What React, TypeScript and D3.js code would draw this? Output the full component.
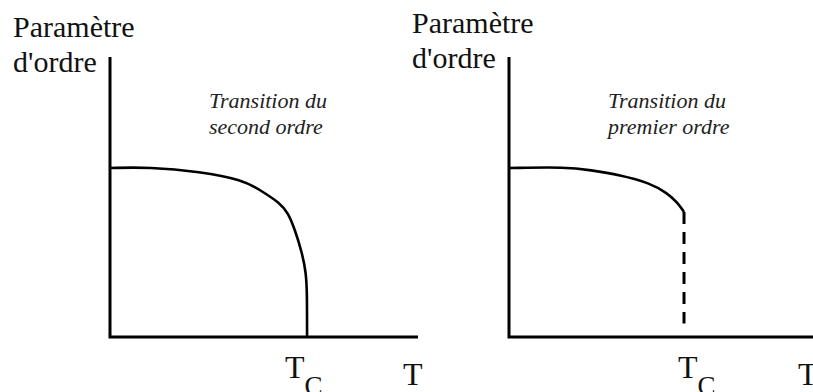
import React from "react";
import * as d3 from "d3";

// order parameter vs temperature (T in units of Tc, M in units of the low-T plateau)
const secondOrderT = [0, 0.2, 0.457, 0.675, 0.761, 0.863, 0.904, 0.939, 0.975, 0.995, 1.0, 1.0];
const secondOrderM = [1.0, 1.006, 0.978, 0.929, 0.87, 0.793, 0.734, 0.633, 0.497, 0.379, 0.26, 0];

const firstOrderT = [0, 0.331, 0.463, 0.634, 0.806, 0.903, 0.96, 1.0];
const firstOrderM = [1.0, 1.006, 0.988, 0.959, 0.911, 0.852, 0.799, 0.74];
// dashed jump at Tc, from the end of the curve down to just above the axis
const jumpM = [0.74, 0.08];

const yLabel = ["Paramètre", "d'ordre"];
const secondTitle = ["Transition du", "second ordre"];
const firstTitle = ["Transition du", "premier ordre"];
const tcLabel = ["T", "C"];
const tLabel = "T";

const W = 813;
const H = 392;
const serif = "Liberation Serif, DejaVu Serif, Times New Roman, serif";

type PanelProps = {
  left: number;
  width: number;
  tMax: number;
  ts: number[];
  ms: number[];
  title: string[];
  labelTop: number;
  tcShift: number;
  jump?: number[];
};

function Panel(props: PanelProps) {
  const yMax = 1.657;
  const x = d3.scaleLinear().domain([0, props.tMax]).range([props.left, props.left + props.width]);
  const y = d3.scaleLinear().domain([0, yMax]).range([337, 57]);

  const pts: [number, number][] = props.ts.map((t, i) => [t, props.ms[i]]);
  const line = d3
    .line<[number, number]>()
    .x((d) => x(d[0]))
    .y((d) => y(d[1]))
    .curve(d3.curveBasis);

  const axis = `M${x(0)},${y(yMax)}V${y(0)}H${x(props.tMax)}`;
  const labelX = props.left - 97;

  return (
    <g>
      <text x={labelX} y={props.labelTop} fontFamily={serif} fontSize={30} fill="#111">
        {yLabel[0]}
      </text>
      <text x={labelX} y={props.labelTop + 35} fontFamily={serif} fontSize={30} fill="#111">
        {yLabel[1]}
      </text>

      <text x={props.left + 99} y={108} fontFamily={serif} fontStyle="italic" fontSize={22} fill="#222">
        {props.title[0]}
      </text>
      <text x={props.left + 99} y={134} fontFamily={serif} fontStyle="italic" fontSize={22} fill="#222">
        {props.title[1]}
      </text>

      <path d={line(pts) || ""} fill="none" stroke="#000" strokeWidth={2.6} />
      {props.jump && (
        <line
          x1={x(1)}
          x2={x(1)}
          y1={y(props.jump[0])}
          y2={y(props.jump[1])}
          stroke="#000"
          strokeWidth={3}
          strokeDasharray="12 8"
        />
      )}
      <path d={axis} fill="none" stroke="#000" strokeWidth={3} strokeLinejoin="miter" />

      <text x={x(1) + props.tcShift} y={378} fontFamily={serif} fontSize={32} fill="#111">
        {tcLabel[0]}
        <tspan fontSize={27} dy={17}>
          {tcLabel[1]}
        </tspan>
      </text>
      <text x={x(props.tMax) - 15} y={385} fontFamily={serif} fontSize={32} fill="#111">
        {tLabel}
      </text>
    </g>
  );
}

export default function App() {
  return (
    <svg
      width={W}
      height={H}
      viewBox={`0 0 ${W} ${H}`}
      style={{ position: "absolute", left: 0, top: 0, background: "#fff" }}
    >
      <rect width={W} height={H} fill="#fff" />
      <Panel
        left={110}
        width={308}
        tMax={1.563}
        ts={secondOrderT}
        ms={secondOrderM}
        title={secondTitle}
        labelTop={37}
        tcShift={-22}
      />
      <Panel
        left={509}
        width={304}
        tMax={1.737}
        ts={firstOrderT}
        ms={firstOrderM}
        title={firstTitle}
        labelTop={33}
        tcShift={-6}
        jump={jumpM}
      />
    </svg>
  );
}
